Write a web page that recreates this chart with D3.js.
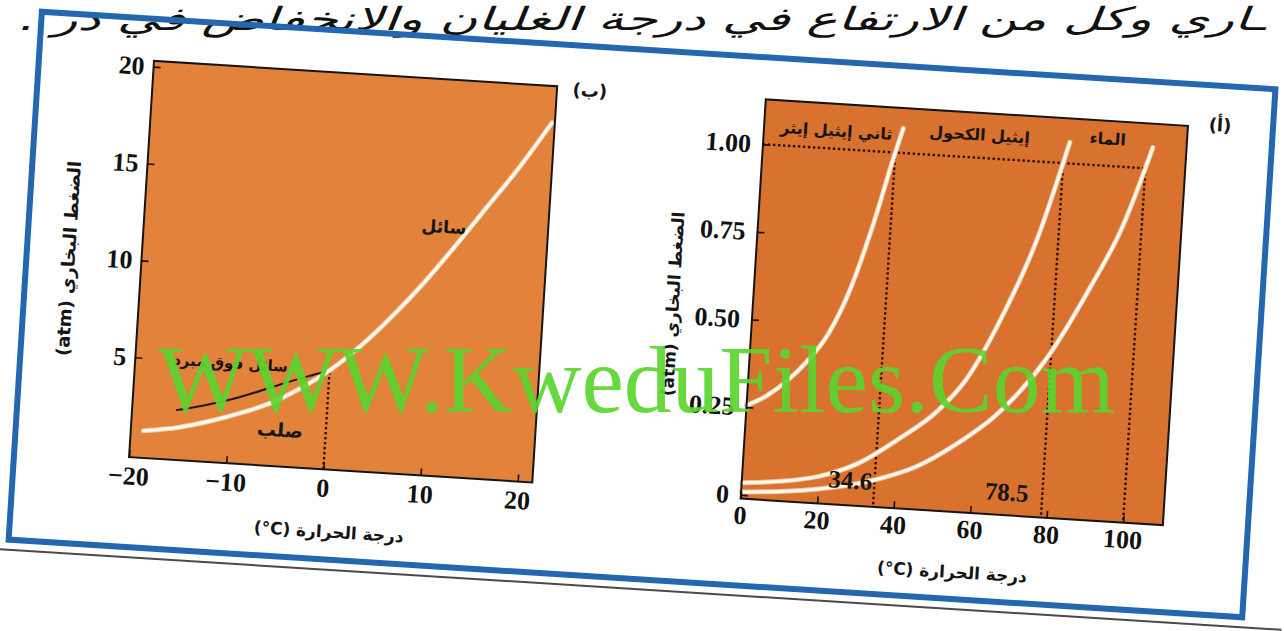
<!DOCTYPE html>
<html><head><meta charset="utf-8">
<script src="https://cdn.jsdelivr.net/npm/d3@7"></script>
<style>
body{margin:0;background:#fff;overflow:hidden}
svg{display:block}
</style></head>
<body><svg id="c" width="1284" height="631"></svg>
<script>
// ---------- data: panel (ب) water near the triple point ----------
const leftXTicks = [-20, -10, 0, 10, 20];
const leftYTicks = [5, 10, 15, 20];
const waterCurveTemps = [-18.7, -15, -12, -9, -6, -3, 0, 3, 6, 9, 12, 15, 18, 21.2];
const waterCurvePressure = [1.25, 1.55, 1.95, 2.45, 3.05, 3.9, 4.95, 6.3, 7.9, 9.7, 11.7, 13.8, 15.9, 18.4];
const supercooledTemps = [-15.4, -12.4, -9, -5.7, -2.3, 0];
const supercooledPressure = [2.42, 2.78, 3.3, 3.93, 4.56, 4.95];
const triplePoint = [0, 4.95];

// ---------- data: panel (أ) three liquids ----------
const rightXTicks = [0, 20, 40, 60, 80, 100];
const rightYTicks = [0, 0.25, 0.5, 0.75, 1.0];
const etherTemps = [0, 5, 10, 15, 20, 25, 30, 34.6, 36.3];
const etherPressure = [0.255, 0.285, 0.33, 0.39, 0.47, 0.6, 0.79, 1.0, 1.07];
const ethanolTemps = [0, 10, 20, 30, 40, 50, 56.7, 65, 73, 78.5, 79.9];
const ethanolPressure = [0.034, 0.045, 0.066, 0.11, 0.185, 0.275, 0.366, 0.55, 0.78, 1.0, 1.06];
const waterTemps = [0, 10, 20, 30, 36, 45, 55, 65, 77.7, 87.7, 95, 100, 101.6];
const waterPressure = [0.008, 0.016, 0.03, 0.052, 0.071, 0.11, 0.18, 0.27, 0.447, 0.654, 0.83, 1.0, 1.06];
const boilingPoints = [34.6, 78.5, 100];
const boilingLabels = ["34.6", "78.5"];
const liquidNames = ["ثاني إيثيل إيثر", "إيثيل الكحول", "الماء"];

const zip = (a, b) => a.map((v, i) => [v, b[i]]);

const svg = d3.select("#c");
const NUM_FONT = "'Liberation Serif', 'DejaVu Serif', serif";
const AR_FONT = "'DejaVu Sans', 'Noto Sans', sans-serif";
const X_TITLE = "درجة الحرارة \u200E(°C)\u200E";
const Y_TITLE = "الضغط البخاري (atm)";

// handwritten note at the top (not rotated), stretched horizontally
svg.append("text")
  .attr("transform", "translate(642,30) scale(1.62,1)")
  .attr("text-anchor", "middle")
  .attr("direction", "rtl")
  .attr("font-family", AR_FONT).attr("font-style", "italic")
  .attr("font-size", 32).attr("fill", "#111")
  .text("ـاري وكل من الارتفاع في درجة الغليان والانخفاض في در .");

// tilted page group
const root = svg.append("g").attr("transform", "rotate(3.6,642,315)");

// page shadow line and blue frame
root.append("line").attr("x1", -20).attr("x2", 1300).attr("y1", 589).attr("y2", 589)
  .attr("stroke", "#4a4a4a").attr("stroke-width", 2);
root.append("rect").attr("x", 24).attr("y", 50).attr("width", 1236).attr("height", 529)
  .attr("fill", "none").attr("stroke", "#2466b0").attr("stroke-width", 6);

function drawCurve(g, x, y, pts, under, over, w) {
  const line = d3.line().x(d => x(d[0])).y(d => y(d[1])).curve(d3.curveMonotoneX);
  if (under) g.append("path").attr("d", line(pts)).attr("fill", "none")
    .attr("stroke", under).attr("stroke-width", w + 2).attr("stroke-linecap", "round");
  g.append("path").attr("d", line(pts)).attr("fill", "none")
    .attr("stroke", over).attr("stroke-width", w).attr("stroke-linecap", "round");
}

function styleAxis(ax) {
  ax.select(".domain").remove();
  ax.selectAll(".tick line").attr("stroke", "#111").attr("stroke-width", 1.6);
  ax.selectAll(".tick text").attr("font-family", NUM_FONT).attr("font-weight", "bold")
    .attr("font-size", 26).attr("fill", "#111");
}

const dotted = {stroke: "#2a1206", width: 2.4, dash: "2.4,2.6"};

// ================= panel (ب) =================
{
  const B = {x0: 139, x1: 543, y0: 92, y1: 489};
  const x = d3.scaleLinear().domain([-20, 21.5]).range([B.x0, B.x1]);
  const y = d3.scaleLinear().domain([-0.15, 20.3]).range([B.y1, B.y0]);
  const g = root.append("g");
  g.append("rect").attr("x", B.x0).attr("y", B.y0).attr("width", B.x1 - B.x0).attr("height", B.y1 - B.y0)
    .attr("fill", "#e2823b");

  g.append("line").attr("x1", x(triplePoint[0])).attr("x2", x(triplePoint[0]))
    .attr("y1", y.range()[0]).attr("y2", y(triplePoint[1]))
    .attr("stroke", dotted.stroke).attr("stroke-width", dotted.width).attr("stroke-dasharray", dotted.dash);

  drawCurve(g, x, y, zip(supercooledTemps, supercooledPressure), null, "#1b1b1b", 2);
  drawCurve(g, x, y, zip(waterCurveTemps, waterCurvePressure), "#f1c9a4", "#fff8ec", 3);

  g.append("rect").attr("x", B.x0).attr("y", B.y0).attr("width", B.x1 - B.x0).attr("height", B.y1 - B.y0)
    .attr("fill", "none").attr("stroke", "#151515").attr("stroke-width", 2);

  const ax = g.append("g").attr("transform", `translate(0,${B.y1})`)
    .call(d3.axisBottom(x).tickValues(leftXTicks).tickSizeInner(-7).tickSizeOuter(0).tickPadding(9)
      .tickFormat(d => d < 0 ? "\u2212" + Math.abs(d) : String(d)));
  styleAxis(ax);
  const ay = g.append("g").attr("transform", `translate(${B.x0},0)`)
    .call(d3.axisLeft(y).tickValues(leftYTicks).tickSizeInner(-7).tickSizeOuter(0).tickPadding(9));
  styleAxis(ay);

  const lab = (t, px, py, fs) => g.append("text").attr("x", px).attr("y", py)
    .attr("text-anchor", "middle").attr("dominant-baseline", "central").attr("direction", "rtl")
    .attr("font-family", AR_FONT).attr("font-weight", "bold").attr("font-size", fs).attr("fill", "#151515").text(t);
  lab("سائل", x(10.8), y(12.7), 17);
  lab("سائل فوق مبرد", x(-10.2), y(5.0), 15);
  lab("صلب", x(-4.7), y(1.75), 19);
  lab("(ب)", 576, 94, 18);
  lab(X_TITLE, (B.x0 + B.x1) / 2 + 2, 551, 17);
  g.append("text").attr("transform", `translate(66,${(B.y0 + B.y1) / 2 + 4}) rotate(-90)`)
    .attr("text-anchor", "middle").attr("dominant-baseline", "central").attr("direction", "rtl")
    .attr("font-family", AR_FONT).attr("font-weight", "bold").attr("font-size", 18).attr("fill", "#151515")
    .text(Y_TITLE);
}

// ================= panel (أ) =================
{
  const A = {x0: 752, x1: 1175, y0: 92, y1: 492};
  const x = d3.scaleLinear().domain([0, 110.4]).range([A.x0, A.x1]);
  const y = d3.scaleLinear().domain([-0.011, 1.128]).range([A.y1, A.y0]);
  const g = root.append("g");
  g.append("rect").attr("x", A.x0).attr("y", A.y0).attr("width", A.x1 - A.x0).attr("height", A.y1 - A.y0)
    .attr("fill", "#d9712f");

  g.append("line").attr("x1", x(0)).attr("x2", x(boilingPoints[2])).attr("y1", y(1)).attr("y2", y(1))
    .attr("stroke", dotted.stroke).attr("stroke-width", dotted.width).attr("stroke-dasharray", dotted.dash);
  boilingPoints.forEach(b => {
    g.append("line").attr("x1", x(b)).attr("x2", x(b)).attr("y1", y(1)).attr("y2", A.y1)
      .attr("stroke", dotted.stroke).attr("stroke-width", dotted.width).attr("stroke-dasharray", dotted.dash);
  });

  [zip(etherTemps, etherPressure), zip(ethanolTemps, ethanolPressure), zip(waterTemps, waterPressure)]
    .forEach(pts => drawCurve(g, x, y, pts, "#f0c29a", "#fff8ec", 3));

  g.append("rect").attr("x", A.x0).attr("y", A.y0).attr("width", A.x1 - A.x0).attr("height", A.y1 - A.y0)
    .attr("fill", "none").attr("stroke", "#151515").attr("stroke-width", 2);

  const ax = g.append("g").attr("transform", `translate(0,${A.y1})`)
    .call(d3.axisBottom(x).tickValues(rightXTicks).tickSizeInner(-7).tickSizeOuter(0).tickPadding(7));
  styleAxis(ax);
  const ay = g.append("g").attr("transform", `translate(${A.x0},0)`)
    .call(d3.axisLeft(y).tickValues(rightYTicks).tickSizeInner(-7).tickSizeOuter(0).tickPadding(12)
      .tickFormat(d => d === 0 ? "0" : d.toFixed(2)));
  styleAxis(ay);

  const lab = (t, px, py, fs, font) => g.append("text").attr("x", px).attr("y", py)
    .attr("text-anchor", "middle").attr("dominant-baseline", "central").attr("direction", font ? "ltr" : "rtl")
    .attr("font-family", font || AR_FONT).attr("font-weight", "bold").attr("font-size", fs).attr("fill", "#151515").text(t);
  lab(liquidNames[0], x(18.9), 119, 16);
  lab(liquidNames[1], x(56.3), 114, 16);
  lab(liquidNames[2], x(89.7), 110, 16);
  lab("(أ)", 1207, 89, 18);
  lab(boilingLabels[0], x(28.3), y(0.061), 25, NUM_FONT);
  lab(boilingLabels[1], x(69.2), y(0.055), 25, NUM_FONT);
  lab(X_TITLE, (A.x0 + A.x1) / 2 + 4, 552, 17);
  g.append("text").attr("transform", `translate(672,${(A.y0 + A.y1) / 2 + 10}) rotate(-90)`)
    .attr("text-anchor", "middle").attr("dominant-baseline", "central").attr("direction", "rtl")
    .attr("font-family", AR_FONT).attr("font-weight", "bold").attr("font-size", 17).attr("fill", "#151515")
    .text(Y_TITLE);
}

// watermark (horizontal, over everything)
svg.append("text").attr("x", 158).attr("y", 412)
  .attr("font-family", NUM_FONT).attr("font-size", 95.5).attr("fill", "#5ad52e").attr("fill-opacity", 0.92)
  .text("WWW.KweduFiles.Com");
</script>
</body></html>
